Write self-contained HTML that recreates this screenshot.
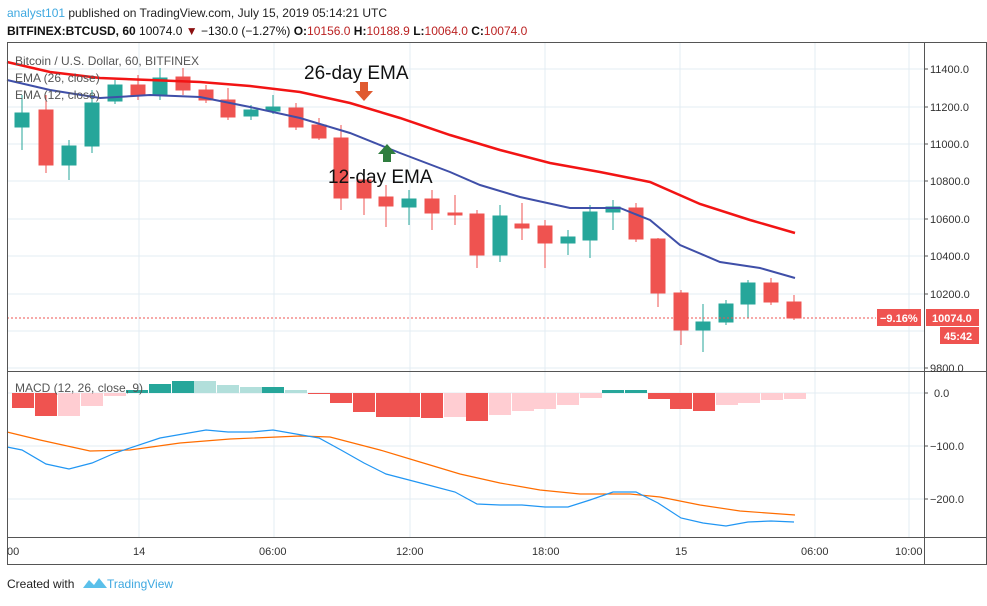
<!DOCTYPE html>
<html><head><meta charset="utf-8"><style>
body{margin:0;background:#fff;width:987px;height:601px;overflow:hidden;font-family:"Liberation Sans",sans-serif}
</style></head><body>
<svg width="987" height="601" xmlns="http://www.w3.org/2000/svg" font-family="Liberation Sans, sans-serif">
<rect width="987" height="601" fill="#fff"/>
<text x="7" y="17" font-size="12"><tspan fill="#3ea8e0">analyst101</tspan><tspan fill="#222"> published on TradingView.com, July 15, 2019 05:14:21 UTC</tspan></text>
<text x="7" y="35" font-size="12" fill="#111"><tspan font-weight="bold">BITFINEX:BTCUSD, 60</tspan> 10074.0 <tspan fill="#8b1010">▼</tspan> −130.0 (−1.27%) <tspan font-weight="bold">O:</tspan><tspan fill="#b22">10156.0</tspan> <tspan font-weight="bold">H:</tspan><tspan fill="#b22">10188.9</tspan> <tspan font-weight="bold">L:</tspan><tspan fill="#b22">10064.0</tspan> <tspan font-weight="bold">C:</tspan><tspan fill="#b22">10074.0</tspan></text>
<g stroke="#e3ecf3" stroke-width="1">
<line x1="139" y1="42" x2="139" y2="537"/><line x1="274" y1="42" x2="274" y2="537"/><line x1="410" y1="42" x2="410" y2="537"/><line x1="545" y1="42" x2="545" y2="537"/><line x1="680" y1="42" x2="680" y2="537"/><line x1="815" y1="42" x2="815" y2="537"/><line x1="909" y1="42" x2="909" y2="537"/>
<line x1="7" y1="69" x2="924" y2="69"/><line x1="7" y1="107" x2="924" y2="107"/><line x1="7" y1="144" x2="924" y2="144"/><line x1="7" y1="181" x2="924" y2="181"/><line x1="7" y1="219" x2="924" y2="219"/><line x1="7" y1="256" x2="924" y2="256"/><line x1="7" y1="294" x2="924" y2="294"/><line x1="7" y1="331" x2="924" y2="331"/><line x1="7" y1="368" x2="924" y2="368"/>
<line x1="7" y1="393" x2="924" y2="393"/><line x1="7" y1="446" x2="924" y2="446"/><line x1="7" y1="499" x2="924" y2="499"/>
</g>
<g id="candles">
<g stroke="#26a69a" fill="#26a69a"><line x1="22" y1="95" x2="22" y2="150"/><rect x="15" y="113" width="14" height="14"/>
<line x1="69" y1="140" x2="69" y2="180"/><rect x="62" y="146" width="14" height="19"/>
<line x1="92" y1="90" x2="92" y2="153"/><rect x="85" y="103" width="14" height="43"/>
<line x1="115" y1="80" x2="115" y2="104"/><rect x="108" y="85" width="14" height="16"/>
<line x1="160" y1="68" x2="160" y2="100"/><rect x="153" y="78" width="14" height="17"/>
<line x1="251" y1="105" x2="251" y2="120"/><rect x="244" y="110" width="14" height="6"/>
<line x1="273" y1="95" x2="273" y2="114"/><rect x="266" y="107" width="14" height="4"/>
<line x1="409" y1="190" x2="409" y2="225"/><rect x="402" y="199" width="14" height="8"/>
<line x1="500" y1="205" x2="500" y2="262"/><rect x="493" y="216" width="14" height="39"/>
<line x1="568" y1="230" x2="568" y2="255"/><rect x="561" y="237" width="14" height="6"/>
<line x1="590" y1="205" x2="590" y2="258"/><rect x="583" y="212" width="14" height="28"/>
<line x1="613" y1="200" x2="613" y2="230"/><rect x="606" y="207" width="14" height="5"/>
<line x1="703" y1="304" x2="703" y2="352"/><rect x="696" y="322" width="14" height="8"/>
<line x1="726" y1="300" x2="726" y2="325"/><rect x="719" y="304" width="14" height="18"/>
<line x1="748" y1="280" x2="748" y2="318"/><rect x="741" y="283" width="14" height="21"/>
</g>
<g stroke="#ef5350" fill="#ef5350"><line x1="46" y1="95" x2="46" y2="173"/><rect x="39" y="110" width="14" height="55"/>
<line x1="138" y1="75" x2="138" y2="100"/><rect x="131" y="85" width="14" height="10"/>
<line x1="183" y1="68" x2="183" y2="95"/><rect x="176" y="77" width="14" height="13"/>
<line x1="206" y1="85" x2="206" y2="103"/><rect x="199" y="90" width="14" height="10"/>
<line x1="228" y1="88" x2="228" y2="120"/><rect x="221" y="100" width="14" height="17"/>
<line x1="296" y1="103" x2="296" y2="130"/><rect x="289" y="108" width="14" height="19"/>
<line x1="319" y1="118" x2="319" y2="140"/><rect x="312" y="125" width="14" height="13"/>
<line x1="341" y1="125" x2="341" y2="210"/><rect x="334" y="138" width="14" height="60"/>
<line x1="364" y1="170" x2="364" y2="215"/><rect x="357" y="180" width="14" height="18"/>
<line x1="386" y1="185" x2="386" y2="227"/><rect x="379" y="197" width="14" height="9"/>
<line x1="432" y1="190" x2="432" y2="230"/><rect x="425" y="199" width="14" height="14"/>
<line x1="455" y1="195" x2="455" y2="225"/><rect x="448" y="213" width="14" height="2"/>
<line x1="477" y1="210" x2="477" y2="268"/><rect x="470" y="214" width="14" height="41"/>
<line x1="522" y1="203" x2="522" y2="240"/><rect x="515" y="224" width="14" height="4"/>
<line x1="545" y1="220" x2="545" y2="268"/><rect x="538" y="226" width="14" height="17"/>
<line x1="636" y1="203" x2="636" y2="242"/><rect x="629" y="208" width="14" height="31"/>
<line x1="658" y1="238" x2="658" y2="307"/><rect x="651" y="239" width="14" height="54"/>
<line x1="681" y1="290" x2="681" y2="345"/><rect x="674" y="293" width="14" height="37"/>
<line x1="771" y1="278" x2="771" y2="305"/><rect x="764" y="283" width="14" height="19"/>
<line x1="794" y1="295" x2="794" y2="320"/><rect x="787" y="302" width="14" height="16"/>
</g></g>
<polyline fill="none" stroke="#f21414" stroke-width="2.5" points="7,62 50,72 100,78 150,80 200,82 250,86 300,92 350,103 400,118 450,135 500,150 550,163 600,172 650,182 700,204 750,220 795,233"/>
<polyline fill="none" stroke="#3f4fa8" stroke-width="2" points="7,80 50,90 100,98 150,95 200,97 250,107 300,118 350,133 400,153 450,172 480,185 520,197 570,208 620,208 650,220 680,245 720,262 760,268 795,278"/>
<line x1="7" y1="318" x2="876" y2="318" stroke="#ef5350" stroke-dasharray="2,2"/>
<text x="15" y="65" font-size="12" fill="#555">Bitcoin / U.S. Dollar, 60, BITFINEX</text>
<text x="15" y="82" font-size="12" fill="#555">EMA (26, close)</text>
<text x="15" y="99" font-size="12" fill="#555">EMA (12, close)</text>
<text x="304" y="79" font-size="19" fill="#111">26-day EMA</text>
<text x="328" y="183" font-size="19" fill="#111">12-day EMA</text>
<path d="M360,82 h8 v9 h5 l-9,10 l-9,-10 h5z" fill="#e05a30"/>
<path d="M383,162 h8 v-8 h5 l-9,-10 l-9,10 h5z" fill="#2f7d3f"/>
<g id="macd">
<rect x="12" y="393" width="22" height="15" fill="#ef5350"/><rect x="35" y="393" width="22" height="23" fill="#ef5350"/><rect x="58" y="393" width="22" height="23" fill="#ffcdd2"/><rect x="81" y="393" width="22" height="13" fill="#ffcdd2"/><rect x="104" y="393" width="22" height="3" fill="#ffcdd2"/>
<rect x="126" y="390" width="22" height="3" fill="#26a69a"/><rect x="149" y="384" width="22" height="9" fill="#26a69a"/><rect x="172" y="381" width="22" height="12" fill="#26a69a"/><rect x="194" y="381" width="22" height="12" fill="#b2dfdb"/><rect x="217" y="385" width="22" height="8" fill="#b2dfdb"/><rect x="240" y="387" width="22" height="6" fill="#b2dfdb"/><rect x="262" y="387" width="22" height="6" fill="#26a69a"/><rect x="285" y="390" width="22" height="3" fill="#b2dfdb"/>
<rect x="308" y="393" width="22" height="1" fill="#ef5350"/><rect x="330" y="393" width="22" height="10" fill="#ef5350"/><rect x="353" y="393" width="22" height="19" fill="#ef5350"/><rect x="376" y="393" width="22" height="24" fill="#ef5350"/><rect x="398" y="393" width="22" height="24" fill="#ef5350"/><rect x="421" y="393" width="22" height="25" fill="#ef5350"/><rect x="444" y="393" width="22" height="24" fill="#ffcdd2"/><rect x="466" y="393" width="22" height="28" fill="#ef5350"/><rect x="489" y="393" width="22" height="22" fill="#ffcdd2"/><rect x="512" y="393" width="22" height="18" fill="#ffcdd2"/><rect x="534" y="393" width="22" height="16" fill="#ffcdd2"/><rect x="557" y="393" width="22" height="12" fill="#ffcdd2"/><rect x="580" y="393" width="22" height="5" fill="#ffcdd2"/>
<rect x="602" y="390" width="22" height="3" fill="#26a69a"/><rect x="625" y="390" width="22" height="3" fill="#26a69a"/>
<rect x="648" y="393" width="22" height="6" fill="#ef5350"/><rect x="670" y="393" width="22" height="16" fill="#ef5350"/><rect x="693" y="393" width="22" height="18" fill="#ef5350"/><rect x="716" y="393" width="22" height="12" fill="#ffcdd2"/><rect x="738" y="393" width="22" height="10" fill="#ffcdd2"/><rect x="761" y="393" width="22" height="7" fill="#ffcdd2"/><rect x="784" y="393" width="22" height="6" fill="#ffcdd2"/>
</g>
<polyline fill="none" stroke="#ff6d00" stroke-width="1.2" points="7,432 40,440 90,451 130,450 180,443 230,439 300,436 330,437 380,450 420,462 460,474 500,483 540,490 580,494 630,494 660,497 700,505 740,511 795,515"/>
<polyline fill="none" stroke="#2196f3" stroke-width="1.2" points="7,447 22,450 46,464 69,469 92,463 115,453 160,438 206,430 228,432 251,432 273,430 296,434 319,438 341,450 364,463 386,474 409,480 432,486 455,492 477,504 500,505 522,505 545,507 568,507 590,500 613,492 636,492 658,503 681,518 703,523 726,526 748,522 771,521 794,522"/>
<text x="15" y="392" font-size="12" fill="#555">MACD (12, 26, close, 9)</text>
<g stroke="#555" stroke-width="1" fill="none"><rect x="7.5" y="42.5" width="979" height="522"/><line x1="7" y1="371.5" x2="987" y2="371.5"/><line x1="7" y1="537.5" x2="987" y2="537.5"/><line x1="924.5" y1="42" x2="924.5" y2="565"/></g>
<g font-size="11" fill="#333">
<text x="930" y="73">11400.0</text><text x="930" y="111">11200.0</text><text x="930" y="148">11000.0</text><text x="930" y="185">10800.0</text><text x="930" y="223">10600.0</text><text x="930" y="260">10400.0</text><text x="930" y="298">10200.0</text><text x="930" y="372">9800.0</text>
<text x="934" y="397">0.0</text><text x="930" y="450">−100.0</text><text x="930" y="503">−200.0</text>
<text x="7" y="555">00</text><text x="133" y="555">14</text><text x="259" y="555">06:00</text><text x="396" y="555">12:00</text><text x="532" y="555">18:00</text><text x="675" y="555">15</text><text x="801" y="555">06:00</text><text x="895" y="555">10:00</text>
</g>
<g stroke="#555"><line x1="924" y1="69" x2="928" y2="69"/><line x1="924" y1="107" x2="928" y2="107"/><line x1="924" y1="144" x2="928" y2="144"/><line x1="924" y1="181" x2="928" y2="181"/><line x1="924" y1="219" x2="928" y2="219"/><line x1="924" y1="256" x2="928" y2="256"/><line x1="924" y1="294" x2="928" y2="294"/><line x1="924" y1="368" x2="928" y2="368"/><line x1="924" y1="393" x2="928" y2="393"/><line x1="924" y1="446" x2="928" y2="446"/><line x1="924" y1="499" x2="928" y2="499"/></g>
<rect x="877" y="309" width="44" height="17" fill="#ef5350"/><text x="880" y="322" font-size="11" fill="#fff" font-weight="bold">−9.16%</text>
<rect x="926" y="309" width="53" height="17" fill="#ef5350"/><text x="932" y="322" font-size="11" fill="#fff" font-weight="bold">10074.0</text>
<rect x="940" y="327" width="39" height="17" fill="#ef5350"/><text x="944" y="340" font-size="11" fill="#fff" font-weight="bold">45:42</text>
<text x="7" y="588" font-size="12" fill="#222">Created with</text>
<path d="M83,588 l6,-8 l5,5 l5,-7 l8,10z" fill="#5bc0ea"/>
<text x="107" y="588" font-size="12" fill="#3ea8e0">TradingView</text>
</svg>
</body></html>
